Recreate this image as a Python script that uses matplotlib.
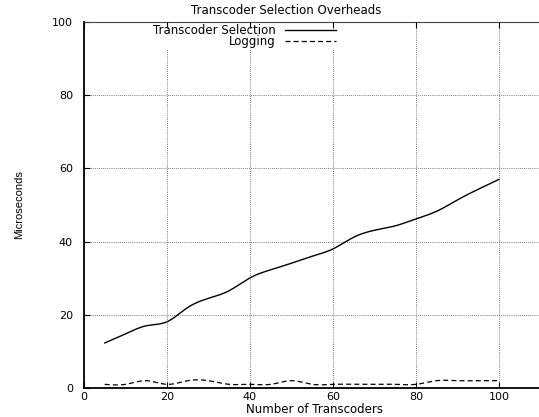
import numpy as np
import matplotlib
matplotlib.use("Agg")
import matplotlib.pyplot as plt

plt.rcParams['font.family'] = ['DejaVu Sans']

transcoders = [5, 10, 15, 20, 25, 30, 35, 40, 45, 50, 55, 60, 65, 70, 75, 80, 85, 90, 95, 100]
selection = [12.3, 14.8, 17.0, 18.1, 22.0, 24.5, 26.6, 30.1, 32.3, 34.1, 36.0, 38.0, 41.2, 43.1, 44.3, 46.2, 48.3, 51.4, 54.3, 57.0]
logging_ = [1.0, 1.0, 2.0, 1.0, 2.0, 2.0, 1.0, 1.0, 1.0, 2.0, 1.0, 1.0, 1.0, 1.0, 1.0, 1.0, 2.0, 2.0, 2.0, 2.0]

x_ticks = [0, 20, 40, 60, 80, 100]
y_ticks = [0, 20, 40, 60, 80, 100]


def natural_spline(x, y, n=400):
    x = np.asarray(x, float)
    y = np.asarray(y, float)
    m = len(x)
    h = np.diff(x)
    A = np.zeros((m, m))
    b = np.zeros(m)
    A[0, 0] = 1
    A[-1, -1] = 1
    for i in range(1, m - 1):
        A[i, i - 1] = h[i - 1]
        A[i, i] = 2 * (h[i - 1] + h[i])
        A[i, i + 1] = h[i]
        b[i] = 6 * ((y[i + 1] - y[i]) / h[i] - (y[i] - y[i - 1]) / h[i - 1])
    M = np.linalg.solve(A, b)
    xs = np.linspace(x[0], x[-1], n)
    idx = np.clip(np.searchsorted(x, xs) - 1, 0, m - 2)
    x0, x1 = x[idx], x[idx + 1]
    hh = x1 - x0
    t0 = x1 - xs
    t1 = xs - x0
    ys = (M[idx] * t0 ** 3 / (6 * hh) + M[idx + 1] * t1 ** 3 / (6 * hh)
          + (y[idx] / hh - M[idx] * hh / 6) * t0 + (y[idx + 1] / hh - M[idx + 1] * hh / 6) * t1)
    return xs, ys


fig = plt.figure(figsize=(5.39, 4.17), dpi=100)
W, H = 539, 417
ax = fig.add_axes([84 / W, 29 / H, (540.5 - 84) / W, (388 - 22) / H])

xs, ys = natural_spline(transcoders, selection)
ax.plot(xs, ys, color='black', lw=1.0, label='Transcoder Selection')
xs2, ys2 = natural_spline(transcoders, logging_)
ax.plot(xs2, ys2, color='black', lw=0.9, ls=(0, (4, 2.5)), label='Logging')

ax.set_xlim(0, 110)
ax.set_ylim(0, 100)
ax.set_xticks(x_ticks)
ax.set_yticks(y_ticks)
ax.tick_params(direction='in', top=False, right=False, length=4, labelsize=8, width=0.8)
ax.tick_params(axis='y', pad=8)
ax.tick_params(axis='x', pad=3)
ax.grid(True, color='#555555', ls=(0, (1, 1.5)), lw=0.6)
ax.set_axisbelow(True)
for s in ['left', 'bottom']:
    ax.spines[s].set_linewidth(1.3)
for s in ['top', 'right']:
    ax.spines[s].set_linewidth(0.8)
    ax.spines[s].set_color('#444444')

fig.text(286 / W, 1 - 10 / H, 'Transcoder Selection Overheads', fontsize=8.5, ha='center', va='center')
fig.text(315 / W, 1 - 409.5 / H, 'Number of Transcoders', fontsize=8.5, ha='center', va='center')
fig.text(19 / W, 1 - 205 / H, 'Microseconds', fontsize=8, rotation=90, ha='center', va='center',
         family=['Liberation Sans Narrow', 'Liberation Sans', 'DejaVu Sans'])

leg = ax.legend(loc='upper right', bbox_to_anchor=(337 / W, 1 - 22.5 / H), bbox_transform=fig.transFigure,
                markerfirst=False, fontsize=8.5, frameon=True, handlelength=4.3, handletextpad=0.8,
                borderpad=0.1, labelspacing=-0.1, fancybox=False, borderaxespad=0)
leg.get_frame().set_facecolor('white')
leg.get_frame().set_edgecolor('none')
leg.get_frame().set_alpha(1)
leg.set_zorder(2.3)
for t in leg.get_texts():
    t.set_ha('right')
leg._legend_box.align = 'right'

# top mirror ticks drawn above the legend box
ax_top = ax.twiny()
ax_top.set_xlim(ax.get_xlim())
ax_top.set_xticks(x_ticks)
ax_top.tick_params(axis='x', direction='in', top=True, bottom=False, labeltop=False, labelbottom=False,
                   length=4, width=0.8)
ax_top.tick_params(axis='y', left=False, right=False, labelleft=False, labelright=False)
ax_top.grid(False)
for s in ax_top.spines.values():
    s.set_visible(False)

fig.savefig('out.png', dpi=100)
